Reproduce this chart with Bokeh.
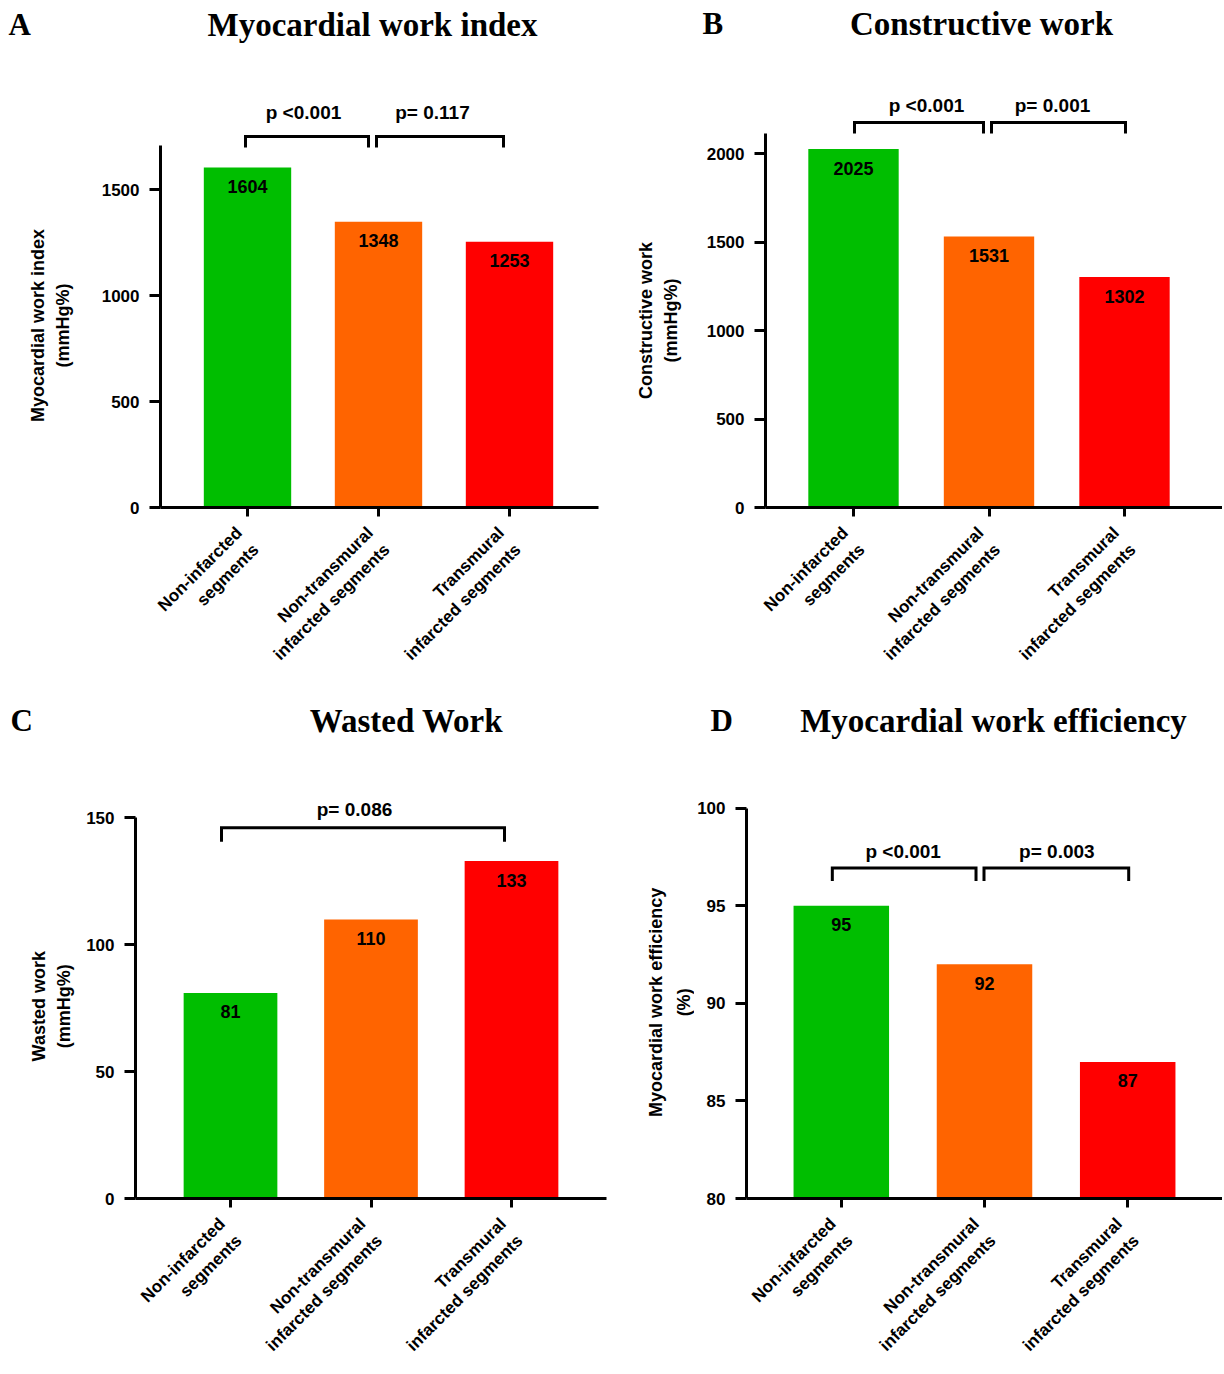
import math
from bokeh.plotting import figure
from bokeh.models import Range1d, FixedTicker
from bokeh.layouts import row, column
from bokeh.embed import file_html
from bokeh.resources import INLINE
from bokeh.core.properties import value

# ---------------- data ----------------
categories = ["Non-infarcted\nsegments",
              "Non-transmural\ninfarcted segments",
              "Transmural\ninfarcted segments"]
bar_colors = ["#00BE00", "#FF6400", "#FF0000"]

mwi_values = [1604, 1348, 1253]   # Myocardial work index
cw_values = [2025, 1531, 1302]    # Constructive work
ww_values = [81, 110, 133]        # Wasted work
mwe_values = [95, 92, 87]         # Myocardial work efficiency

mwi_ticks = [0, 500, 1000, 1500]
cw_ticks = [0, 500, 1000, 1500, 2000]
ww_ticks = [0, 50, 100, 150]
mwe_ticks = [80, 85, 90, 95, 100]

mwi_pvalues = ["p <0.001", "p= 0.117"]
cw_pvalues = ["p <0.001", "p= 0.001"]
ww_pvalues = ["p= 0.086"]
mwe_pvalues = ["p <0.001", "p= 0.003"]

SANS = "Liberation Sans"
SERIF = "Liberation Serif"
HEADER_H = 60
TITLE_SHIFT = 13   # rendered baseline sits this many px below the requested y

# ---------------- layout (page pixels) ----------------
panels = [
    dict(letter="A", title="Myocardial work index", values=mwi_values, ticks=mwi_ticks,
         pvalues=mwi_pvalues, axis_top_value=1708,
         fig=(0, 0, 612, 690), WL=92, L=160, R=598, B=507, xc1=247, xsp=131.0, y0=0,
         ppu=106 / 500,
         brackets=[(245, 368), (376, 503)], br_top=136, br_bot=147,
         ptext=[(303, 112), (432, 112)], title_x=372, letter_x=8, title_y=37,
         ylabel=["Myocardial work index", "(mmHg%)"], ylabel_x=[37, 62], ylabel_y=325),
    dict(letter="B", title="Constructive work", values=cw_values, ticks=cw_ticks,
         pvalues=cw_pvalues, axis_top_value=2113,
         fig=(612, 0, 610, 690), WL=90, L=765, R=1222, B=507, xc1=853, xsp=135.5, y0=0,
         ppu=88.5 / 500,
         brackets=[(854, 983), (991, 1125)], br_top=122, br_bot=133,
         ptext=[(926, 105), (1052, 105)], title_x=981, letter_x=702, title_y=36,
         ylabel=["Constructive work", "(mmHg%)"], ylabel_x=[645, 670], ylabel_y=320),
    dict(letter="C", title="Wasted Work", values=ww_values, ticks=ww_ticks,
         pvalues=ww_pvalues, axis_top_value=150,
         fig=(0, 690, 612, 682), WL=76, L=135, R=606, B=1202, xc1=230, xsp=140.5, y0=0,
         ppu=128 / 50,
         brackets=[(221, 504)], br_top=828, br_bot=842,
         ptext=[(354, 810)], title_x=406, letter_x=10, title_y=733,
         ylabel=["Wasted work", "(mmHg%)"], ylabel_x=[38, 63], ylabel_y=1008),
    dict(letter="D", title="Myocardial work efficiency", values=mwe_values, ticks=mwe_ticks,
         pvalues=mwe_pvalues, axis_top_value=100,
         fig=(612, 690, 610, 682), WL=82, L=745, R=1222, B=1200, xc1=840, xsp=143.5, y0=80,
         ppu=98 / 5,
         brackets=[(831, 975), (983, 1128)], br_top=868, br_bot=881,
         ptext=[(902, 851), (1056, 851)], title_x=993, letter_x=710, title_y=733,
         ylabel=["Myocardial work efficiency", "(%)"], ylabel_x=[655, 683], ylabel_y=1003),
]


def blank_fig(w, h, xr, yr, bottom=0):
    f = figure(width=w, height=h, output_backend="svg", toolbar_location=None,
               x_range=xr, y_range=yr, x_axis_type=None, y_axis_type=None,
               min_border=0, min_border_left=0, min_border_right=0,
               min_border_top=0, min_border_bottom=bottom,
               background_fill_color="white", border_fill_color="white")
    f.outline_line_color = None
    f.xgrid.visible = False
    f.ygrid.visible = False
    return f


def make_panel(c):
    fx, fy, W, H = c["fig"]
    WL = c["WL"]
    L, R, B = c["L"], c["R"], c["B"]
    xc1, xsp, y0, ppu = c["xc1"], c["xsp"], c["y0"], c["ppu"]
    top = fy + HEADER_H          # top edge of chart frame (page px)
    bottom_border = fy + H - B   # space under the x axis

    def dx(px):
        return 1 + (px - xc1) / xsp

    def dy(py):
        return y0 + (B - py) / ppu

    # header: panel letter and title (x mapped like the chart's x axis,
    # y = pixels above the header's bottom edge)
    hdr = blank_fig(W, HEADER_H, Range1d(dx(fx), dx(fx + W)), Range1d(0, HEADER_H))
    ty = top - (c["title_y"] - TITLE_SHIFT)
    hdr.text(x=[dx(c["title_x"])], y=[ty], text=[c["title"]],
             text_align="center", text_baseline="alphabetic", text_font=value(SERIF),
             text_font_style="bold", text_font_size="33px", text_color="black")
    hdr.text(x=[dx(c["letter_x"])], y=[ty], text=[c["letter"]],
             text_align="left", text_baseline="alphabetic", text_font=value(SERIF),
             text_font_style="bold", text_font_size="31px", text_color="black")

    # left strip: y axis title (two lines, rotated). Its frame is aligned with the
    # chart frame (top .. B), y = pixels above the x axis line
    lft = blank_fig(WL, H - HEADER_H, Range1d(fx, fx + WL), Range1d(0, B - top),
                    bottom=bottom_border)
    lft.text(x=c["ylabel_x"], y=[B - c["ylabel_y"]] * len(c["ylabel"]), text=c["ylabel"],
             angle=math.pi / 2, text_align="center", text_baseline="middle",
             text_font=value(SANS), text_font_style="bold", text_font_size="18px",
             text_color="black")

    # main chart
    p = figure(width=W - WL, height=H - HEADER_H, output_backend="svg", toolbar_location=None,
               x_range=Range1d(dx(L), dx(R)), y_range=Range1d(y0, dy(top)),
               min_border_left=L - fx - WL, min_border_right=fx + W - R,
               min_border_top=0, min_border_bottom=bottom_border,
               background_fill_color="white", border_fill_color="white")
    p.outline_line_color = None
    p.xgrid.visible = False
    p.ygrid.visible = False

    xs = [1, 2, 3]
    p.vbar(x=xs, top=c["values"], bottom=y0, width=0.667, fill_color=bar_colors,
           line_color=None)
    p.text(x=xs, y=c["values"], text=[str(v) for v in c["values"]], y_offset=19,
           text_align="center", text_baseline="middle", text_font=value(SANS),
           text_font_style="bold", text_font_size="18px", text_color="black")

    ya = p.yaxis[0]
    ya.ticker = FixedTicker(ticks=c["ticks"])
    ya.bounds = (y0, c["axis_top_value"])
    ya.axis_line_width = 3
    ya.axis_line_color = "black"
    ya.major_tick_in = 0
    ya.major_tick_out = 11
    ya.major_tick_line_width = 3
    ya.minor_tick_line_color = None
    ya.major_label_text_font = SANS
    ya.major_label_text_font_style = "bold"
    ya.major_label_text_font_size = "17px"
    ya.major_label_text_color = "black"
    ya.major_label_standoff = 10

    xa = p.xaxis[0]
    xa.ticker = FixedTicker(ticks=xs)
    xa.major_label_overrides = {i + 1: categories[i] for i in range(3)}
    xa.major_label_orientation = math.pi / 4
    xa.axis_line_width = 3
    xa.axis_line_color = "black"
    xa.major_tick_in = 0
    xa.major_tick_out = 9
    xa.major_tick_line_width = 3
    xa.minor_tick_line_color = None
    xa.major_label_text_font = SANS
    xa.major_label_text_font_style = "bold"
    xa.major_label_text_font_size = "17px"
    xa.major_label_text_line_height = 1.25
    xa.major_label_text_color = "black"
    xa.major_label_standoff = 22

    bxs, bys = [], []
    for (a, b) in c["brackets"]:
        bxs.append([dx(a), dx(a), dx(b), dx(b)])
        bys.append([dy(c["br_bot"]), dy(c["br_top"]), dy(c["br_top"]), dy(c["br_bot"])])
    p.multi_line(xs=bxs, ys=bys, line_color="black", line_width=3, line_join="miter")
    p.text(x=[dx(px) for px, _ in c["ptext"]], y=[dy(py) for _, py in c["ptext"]],
           text=c["pvalues"], text_align="center", text_baseline="middle",
           text_font=value(SANS), text_font_style="bold", text_font_size="19px",
           text_color="black")

    return column(hdr, row(lft, p))


cols = [make_panel(c) for c in panels]
layout = column(row(cols[0], cols[1]), row(cols[2], cols[3]))

with open("out.html", "w") as f:
    f.write(file_html(layout, INLINE))
